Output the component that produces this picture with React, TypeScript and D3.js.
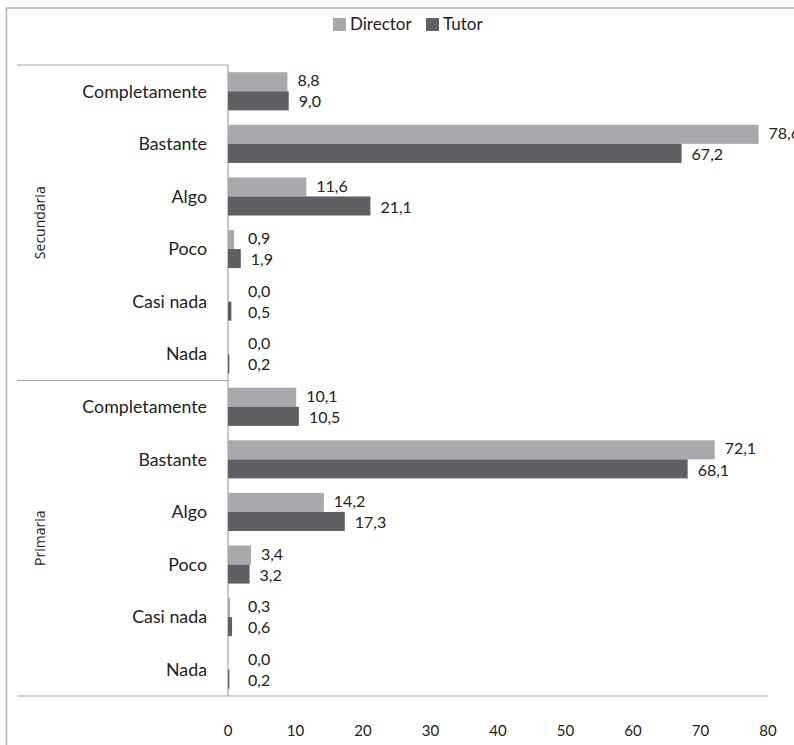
import React from 'react';
import * as d3 from 'd3';

const categories = ['Completamente', 'Bastante', 'Algo', 'Poco', 'Casi nada', 'Nada'];
const groups = ['Secundaria', 'Primaria'];
const seriesNames = ['Director', 'Tutor'];
const directorSecundaria = [8.8, 78.6, 11.6, 0.9, 0.0, 0.0];
const tutorSecundaria = [9.0, 67.2, 21.1, 1.9, 0.5, 0.2];
const directorPrimaria = [10.1, 72.1, 14.2, 3.4, 0.3, 0.0];
const tutorPrimaria = [10.5, 68.1, 17.3, 3.2, 0.6, 0.2];
const tickValues = [0, 10, 20, 30, 40, 50, 60, 70, 80];

const W = 794;
const H = 745;
const FONT = 'Lato, "Open Sans", sans-serif';
const colors: Record<string, string> = { Director: '#a7a9ac', Tutor: '#5f6064' };

type Row = { key: string; group: string; cat: string; Director: number; Tutor: number };

const rows: Row[] = [];
groups.forEach((g) => {
  const dir = g === 'Secundaria' ? directorSecundaria : directorPrimaria;
  const tut = g === 'Secundaria' ? tutorSecundaria : tutorPrimaria;
  categories.forEach((c, i) => {
    rows.push({ key: g + '|' + c, group: g, cat: c, Director: dir[i], Tutor: tut[i] });
  });
});

const fmt = (v: number) => d3.format('.1f')(v).replace('.', ',');

export default function App() {
  const x = d3.scaleLinear().domain([0, 80]).range([228, 768]);
  const y = d3.scaleBand<string>().domain(rows.map((r) => r.key)).range([65, 696]).padding(0);
  const inner = d3.scaleBand<string>().domain(seriesNames).range([0, y.bandwidth()]).paddingInner(0).paddingOuter(0.38);
  const groupY = (g: string) => {
    const ks = rows.filter((r) => r.group === g).map((r) => r.key);
    const top = y(ks[0])!;
    const bottom = y(ks[ks.length - 1])! + y.bandwidth();
    return { top, bottom, mid: (top + bottom) / 2 };
  };
  const lineColor = '#a6a6a6';

  return (
    <svg width={W} height={H} style={{ position: 'absolute', left: 0, top: 0, background: '#fff' }}>
      <rect x={0} y={0} width={W} height={H} fill="#fff" />
      {/* outer frame */}
      <line x1={6.5} x2={6.5} y1={8} y2={H} stroke="#b0b0b0" strokeWidth={1.5} />
      <line x1={6} x2={W} y1={8} y2={8} stroke="#b0b0b0" strokeWidth={1.5} />

      {/* legend */}
      <g fontFamily={FONT} fontSize={17} fill="#222">
        <rect x={333} y={18} width={13} height={13} fill={colors.Director} />
        <text x={350} y={30}>Director</text>
        <rect x={426} y={18} width={13} height={13} fill={colors.Tutor} />
        <text x={443} y={30}>Tutor</text>
      </g>

      {/* group separators */}
      {groups.map((g) => {
        const gy = groupY(g);
        return (
          <g key={g}>
            <line x1={17} x2={x(0)} y1={gy.top} y2={gy.top} stroke={lineColor} strokeWidth={1.2} />
            <text
              transform={`translate(45,${gy.mid}) rotate(-90)`}
              textAnchor="middle"
              fontFamily={'"Open Sans", sans-serif'}
              fontSize={14}
              fill="#222"
            >
              {g}
            </text>
          </g>
        );
      })}
      <line x1={17} x2={x(80)} y1={696} y2={696} stroke={lineColor} strokeWidth={1.2} />
      <line x1={x(0)} x2={x(0)} y1={65} y2={696} stroke={lineColor} strokeWidth={1.2} />

      {/* bars */}
      {rows.map((r) => (
        <g key={r.key}>
          <text
            x={207}
            y={y(r.key)! + y.bandwidth() / 2}
            dy="0.35em"
            textAnchor="end"
            fontFamily={FONT}
            fontSize={17.8}
            fill="#222"
          >
            {r.cat}
          </text>
          {seriesNames.map((s) => {
            const v = (r as any)[s] as number;
            const by = y(r.key)! + inner(s)!;
            const end = x(v);
            return (
              <g key={s}>
                <rect x={x(0)} y={by} width={end - x(0)} height={inner.bandwidth()} fill={colors[s]} />
                <text
                  x={Math.max(end + 10, 248)}
                  y={by + inner.bandwidth() / 2 + (s === 'Director' ? -1 : 1)}
                  dy="0.35em"
                  fontFamily={FONT}
                  fontSize={16}
                  fill="#222"
                >
                  {fmt(v)}
                </text>
              </g>
            );
          })}
        </g>
      ))}

      {/* x axis ticks */}
      {tickValues.map((t) => (
        <text key={t} x={x(t)} y={731} dy="0.35em" textAnchor="middle" fontFamily={FONT} fontSize={15} fill="#222">
          {t}
        </text>
      ))}
    </svg>
  );
}
